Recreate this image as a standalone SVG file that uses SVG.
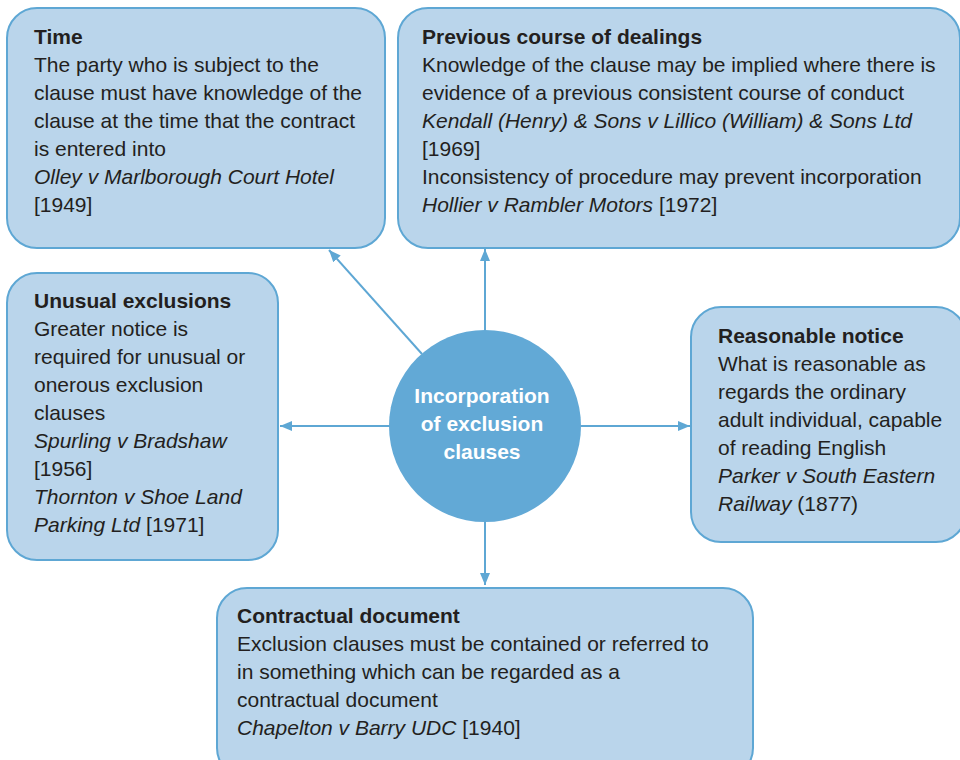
<svg xmlns="http://www.w3.org/2000/svg" width="960" height="760" viewBox="0 0 960 760">
  <style>
    .box { fill: #BAD5EB; stroke: #5EA7D4; stroke-width: 2; }
    .hub { fill: #62A9D6; }
    .t { font-family: "Liberation Sans", Arial, sans-serif; font-size: 21px; fill: #231F20; }
    .h { font-weight: bold; }
    .i { font-style: italic; }
    .c { font-family: "Liberation Sans", Arial, sans-serif; font-size: 21px; font-weight: bold; fill: #FFFFFF; text-anchor: middle; }
    .link { stroke: #5EA7D4; stroke-width: 2; fill: none; marker-end: url(#tip); }
  </style>
  <defs>
    <marker id="tip" viewBox="0 0 12 10" refX="12" refY="5" markerWidth="12" markerHeight="10" markerUnits="userSpaceOnUse" orient="auto">
      <path d="M0,0 L12,5 L0,10 Z" fill="#5EA7D4"/>
    </marker>
  </defs>

  <g id="connectors">
    <line class="link" x1="485" y1="330" x2="485" y2="249"/>
    <line class="link" x1="485" y1="522" x2="485" y2="585"/>
    <line class="link" x1="390" y1="426" x2="280" y2="426"/>
    <line class="link" x1="581" y1="426" x2="690" y2="426"/>
    <line class="link" x1="422" y1="354" x2="329" y2="250"/>
  </g>

  <g id="time">
    <rect class="box" x="7" y="8" width="378" height="240" rx="30"/>
    <text class="t h" x="34" y="44">Time</text>
    <text class="t" x="34" y="72">The party who is subject to the</text>
    <text class="t" x="34" y="100">clause must have knowledge of the</text>
    <text class="t" x="34" y="128">clause at the time that the contract</text>
    <text class="t" x="34" y="156">is entered into</text>
    <text class="t i" x="34" y="184">Olley v Marlborough Court Hotel</text>
    <text class="t" x="34" y="212">[1949]</text>
  </g>

  <g id="previous-dealings">
    <rect class="box" x="398" y="8" width="562" height="240" rx="30"/>
    <text class="t h" x="422" y="44">Previous course of dealings</text>
    <text class="t" x="422" y="72">Knowledge of the clause may be implied where there is</text>
    <text class="t" x="422" y="100">evidence of a previous consistent course of conduct</text>
    <text class="t i" x="422" y="128">Kendall (Henry) &amp; Sons v Lillico (William) &amp; Sons Ltd</text>
    <text class="t" x="422" y="156">[1969]</text>
    <text class="t" x="422" y="184">Inconsistency of procedure may prevent incorporation</text>
    <text class="t" x="422" y="212"><tspan class="i">Hollier v Rambler Motors</tspan> [1972]</text>
  </g>

  <g id="unusual-exclusions">
    <rect class="box" x="7" y="273" width="271" height="287" rx="30"/>
    <text class="t h" x="34" y="308">Unusual exclusions</text>
    <text class="t" x="34" y="336">Greater notice is</text>
    <text class="t" x="34" y="364">required for unusual or</text>
    <text class="t" x="34" y="392">onerous exclusion</text>
    <text class="t" x="34" y="420">clauses</text>
    <text class="t i" x="34" y="448">Spurling v Bradshaw</text>
    <text class="t" x="34" y="476">[1956]</text>
    <text class="t i" x="34" y="504">Thornton v Shoe Land</text>
    <text class="t" x="34" y="532"><tspan class="i">Parking Ltd</tspan> [1971]</text>
  </g>

  <g id="reasonable-notice">
    <rect class="box" x="691" y="307" width="275" height="235" rx="30"/>
    <text class="t h" x="718" y="343">Reasonable notice</text>
    <text class="t" x="718" y="371">What is reasonable as</text>
    <text class="t" x="718" y="399">regards the ordinary</text>
    <text class="t" x="718" y="427">adult individual, capable</text>
    <text class="t" x="718" y="455">of reading English</text>
    <text class="t i" x="718" y="483">Parker v South Eastern</text>
    <text class="t" x="718" y="511"><tspan class="i">Railway</tspan> (1877)</text>
  </g>

  <g id="contractual-document">
    <rect class="box" x="217" y="588" width="536" height="190" rx="30"/>
    <text class="t h" x="237" y="623">Contractual document</text>
    <text class="t" x="237" y="651">Exclusion clauses must be contained or referred to</text>
    <text class="t" x="237" y="679">in something which can be regarded as a</text>
    <text class="t" x="237" y="707">contractual document</text>
    <text class="t" x="237" y="735"><tspan class="i">Chapelton v Barry UDC</tspan> [1940]</text>
  </g>

  <g id="incorporation">
    <circle class="hub" cx="485" cy="426" r="96"/>
    <text class="c" x="482" y="403">Incorporation</text>
    <text class="c" x="482" y="431">of exclusion</text>
    <text class="c" x="482" y="459">clauses</text>
  </g>
</svg>
